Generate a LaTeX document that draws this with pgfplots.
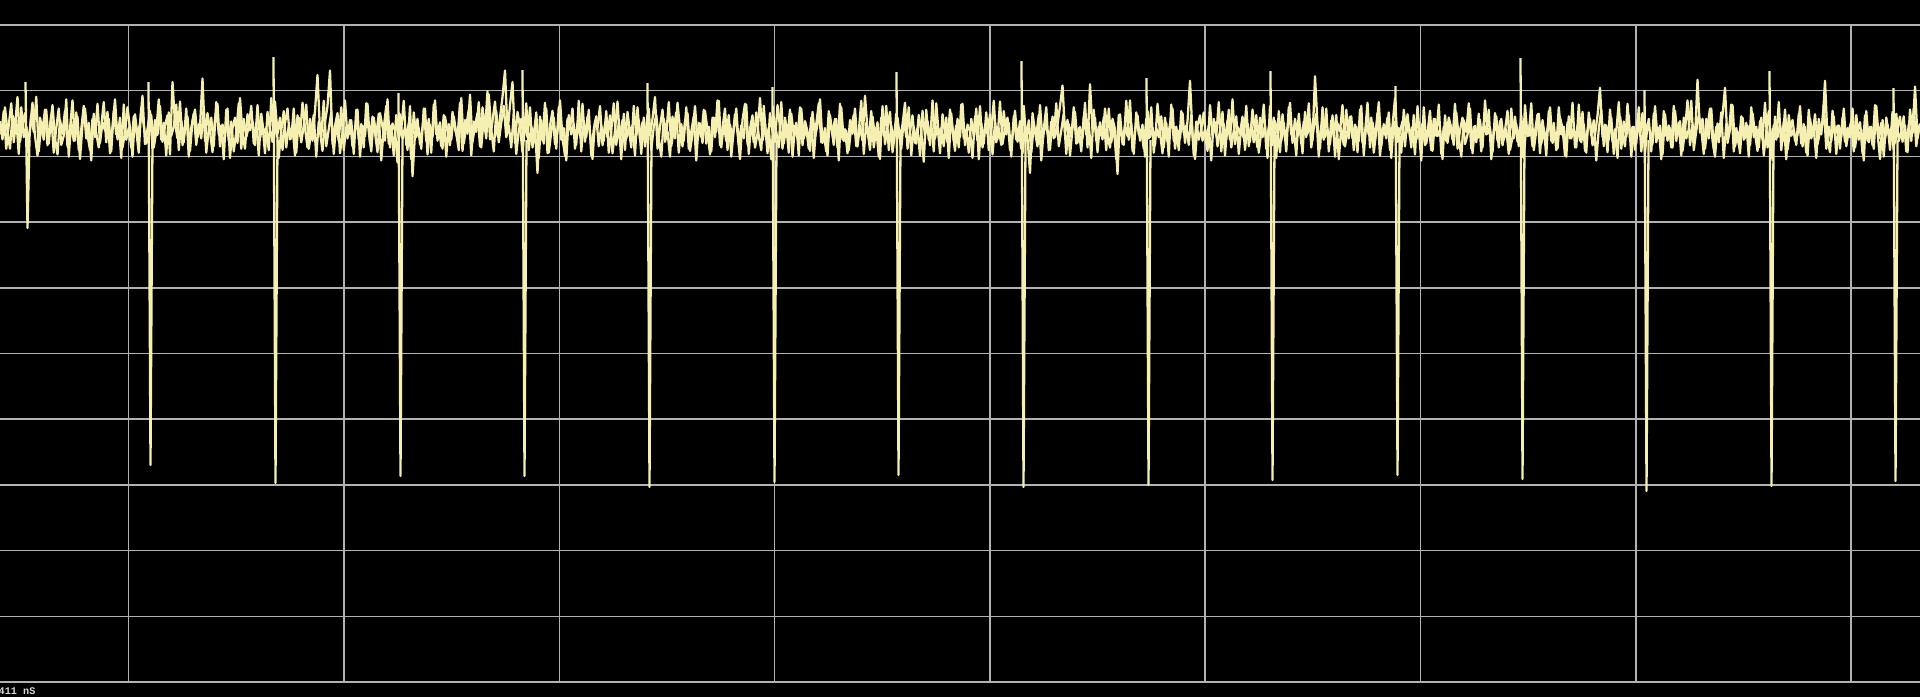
\documentclass[border=0pt]{standalone}
\usepackage{pgfplots}
\pgfplotsset{compat=1.18}
\usepackage{fontspec}
\setmonofont{Liberation Mono}
\usetikzlibrary{backgrounds}
\definecolor{trace}{RGB}{245,240,178}
\definecolor{gridc}{RGB}{178,178,178}
\begin{document}
\begin{tikzpicture}
\begin{axis}[
  scale only axis, width=19.2cm, height=6.57cm,
  xmin=0, xmax=1920, ymin=25, ymax=682, y dir=reverse,
  axis background/.style={fill=black},
  axis line style={draw=none},
  xtick={128.7,344.0,559.3,774.6,989.9,1205.2,1420.5,1635.8,1851.1},
  ytick={25,90.7,156.4,222.1,287.8,353.5,419.2,484.9,550.6,616.3,682},
  xticklabels={}, yticklabels={}, major tick length=0pt,
  grid=major, grid style={line width=0.42pt, color=gridc},
  clip=true,
]
% trace, even samples
\addplot[trace, line width=0.65pt, line join=round] table[row sep=\\, header=false, x expr=\coordindex*2.5, y expr={128+1.15*(\thisrowno{0}-128)}] {
122\\138\\110\\131\\146\\117\\127\\101\\140\\124\\115\\149\\128\\106\\135\\152\\119\\130\\112\\143\\
126\\108\\137\\151\\121\\133\\113\\144\\129\\104\\139\\118\\155\\125\\111\\134\\147\\120\\136\\107\\
141\\123\\130\\114\\150\\127\\103\\138\\119\\145\\132\\110\\128\\153\\116\\135\\124\\100\\142\\129\\
113\\146\\121\\134\\109\\140\\126\\117\\151\\88\\124\\137\\105\\143\\130\\118\\148\\122\\112\\136\\
127\\85\\139\\115\\131\\149\\120\\107\\144\\125\\136\\111\\154\\128\\119\\141\\102\\133\\146\\116\\
130\\122\\143\\108\\137\\125\\150\\114\\129\\140\\105\\133\\119\\147\\124\\111\\138\\127\\152\\117\\
135\\106\\128\\145\\120\\139\\113\\82\\131\\148\\123\\109\\78\\142\\126\\115\\150\\132\\104\\137\\
121\\144\\129\\112\\153\\126\\135\\107\\141\\118\\132\\149\\115\\127\\139\\103\\145\\124\\130\\158\\
116\\138\\127\\147\\109\\170\\133\\120\\142\\128\\111\\151\\125\\136\\104\\139\\123\\146\\118\\131\\
143\\114\\129\\137\\106\\148\\121\\133\\99\\140\\126\\115\\144\\110\\131\\96\\138\\122\\105\\135\\
119\\101\\78\\132\\108\\88\\141\\114\\127\\149\\123\\136\\110\\145\\128\\167\\118\\139\\106\\150\\
126\\113\\142\\131\\104\\137\\152\\120\\129\\111\\146\\124\\135\\107\\140\\118\\133\\155\\122\\128\\
109\\143\\125\\136\\117\\150\\130\\105\\139\\121\\147\\114\\132\\126\\152\\110\\138\\123\\144\\116\\
134\\120\\101\\146\\127\\112\\140\\131\\153\\118\\137\\106\\129\\144\\122\\115\\148\\133\\109\\139\\
124\\141\\113\\130\\151\\119\\136\\104\\143\\128\\111\\147\\125\\138\\116\\132\\155\\121\\107\\142\\
129\\117\\145\\133\\102\\139\\124\\150\\115\\131\\140\\108\\127\\146\\119\\135\\112\\153\\126\\137\\
110\\143\\122\\131\\148\\114\\136\\125\\103\\141\\128\\152\\117\\134\\120\\145\\107\\138\\129\\150\\
121\\133\\111\\144\\126\\139\\100\\130\\147\\118\\136\\123\\155\\109\\142\\127\\114\\149\\132\\119\\
138\\125\\106\\146\\131\\117\\141\\128\\152\\113\\135\\122\\143\\104\\137\\126\\150\\116\\133\\140\\
112\\129\\148\\120\\136\\107\\143\\125\\131\\154\\118\\139\\109\\145\\127\\133\\116\\151\\123\\138\\
105\\142\\128\\119\\147\\134\\113\\140\\122\\150\\126\\137\\167\\115\\131\\144\\108\\139\\124\\132\\
147\\118\\136\\125\\109\\91\\133\\121\\152\\128\\114\\141\\127\\137\\106\\145\\90\\130\\119\\149\\
123\\138\\111\\134\\145\\120\\129\\168\\116\\142\\126\\135\\104\\148\\131\\117\\139\\125\\153\\113\\
136\\128\\143\\107\\132\\150\\119\\140\\124\\111\\146\\130\\137\\115\\141\\122\\87\\134\\155\\126\\
117\\139\\129\\148\\108\\135\\123\\144\\130\\114\\152\\121\\138\\103\\142\\127\\133\\118\\147\\124\\
140\\112\\131\\145\\119\\136\\126\\154\\109\\143\\122\\132\\149\\116\\137\\128\\106\\141\\120\\135\\
127\\150\\114\\133\\121\\139\\83\\125\\146\\110\\136\\129\\142\\117\\153\\124\\131\\108\\144\\130\\
118\\137\\125\\149\\112\\141\\133\\106\\145\\123\\138\\115\\152\\128\\134\\119\\147\\126\\102\\140\\
131\\122\\144\\116\\136\\127\\151\\109\\139\\124\\143\\132\\113\\148\\120\\135\\129\\155\\117\\141\\
125\\138\\107\\146\\130\\119\\142\\134\\111\\150\\126\\137\\121\\145\\104\\133\\128\\149\\115\\139\\
122\\143\\130\\113\\147\\136\\118\\140\\127\\153\\108\\135\\124\\144\\131\\116\\150\\121\\138\\129\\
110\\141\\133\\146\\119\\128\\152\\123\\137\\106\\145\\126\\139\\114\\148\\130\\120\\143\\134\\117\\
93\\136\\125\\149\\112\\140\\129\\154\\118\\133\\144\\107\\138\\127\\147\\121\\135\\115\\150\\124\\
131\\142\\109\\137\\126\\151\\116\\139\\128\\145\\113\\134\\122\\148\\130\\104\\143\\125\\136\\86\\
132\\120\\146\\127\\111\\139\\153\\124\\135\\117\\93\\141\\129\\108\\144\\131\\150\\119\\137\\126\\
143\\115\\133\\148\\122\\138\\106\\145\\128\\156\\118\\136\\125\\140\\112\\147\\130\\121\\139\\134\\
109\\144\\127\\152\\120\\135\\116\\142\\131\\125\\87\\138\\149\\113\\134\\126\\146\\119\\140\\128\\
136\\111\\145\\130\\123\\150\\117\\139\\127\\143\\108\\132\\155\\121\\137\\125\\147\\114\\141\\129\\
118\\140\\126\\149\\112\\133\\92\\137\\124\\
};
% trace, odd samples (between the even ones)
\addplot[trace, line width=0.65pt, line join=round] table[row sep=\\, header=false, x expr=1.25+\coordindex*2.5, y expr={128+1.3*(\thisrowno{0}-128)}] {
133\\115\\144\\126\\109\\139\\121\\148\\112\\135\\127\\142\\118\\131\\104\\146\\125\\137\\114\\140\\
119\\147\\128\\113\\141\\134\\106\\150\\123\\138\\116\\145\\129\\111\\136\\124\\153\\117\\132\\143\\
127\\108\\139\\121\\146\\115\\133\\125\\151\\110\\137\\128\\143\\119\\130\\147\\112\\126\\140\\134\\
118\\143\\131\\106\\137\\124\\149\\116\\134\\127\\110\\145\\122\\139\\113\\150\\128\\117\\141\\125\\
136\\112\\147\\129\\120\\142\\108\\133\\126\\152\\114\\138\\123\\146\\131\\109\\144\\121\\135\\127\\
111\\140\\124\\149\\117\\132\\128\\145\\105\\137\\122\\151\\130\\115\\143\\126\\136\\113\\147\\120\\
139\\126\\110\\144\\131\\118\\150\\123\\135\\107\\142\\129\\116\\148\\124\\138\\112\\145\\127\\133\\
122\\148\\114\\137\\125\\143\\109\\131\\146\\120\\134\\117\\153\\128\\111\\140\\126\\149\\118\\136\\
129\\107\\141\\124\\152\\116\\135\\128\\144\\113\\138\\121\\147\\110\\133\\126\\142\\118\\150\\125\\
137\\119\\132\\145\\105\\140\\127\\114\\149\\123\\131\\108\\143\\120\\136\\102\\129\\146\\115\\139\\
124\\111\\135\\126\\143\\117\\148\\130\\121\\138\\109\\145\\127\\134\\116\\151\\122\\140\\113\\147\\
131\\120\\144\\112\\137\\128\\153\\118\\133\\125\\141\\107\\146\\123\\135\\114\\149\\129\\119\\142\\
126\\138\\115\\147\\130\\109\\141\\124\\152\\117\\136\\128\\143\\111\\134\\122\\148\\120\\139\\113\\
145\\127\\118\\136\\150\\121\\133\\108\\142\\129\\116\\147\\125\\138\\112\\144\\131\\119\\153\\124\\
135\\114\\140\\127\\146\\120\\131\\107\\143\\125\\138\\118\\150\\129\\113\\141\\126\\136\\110\\148\\
123\\139\\116\\134\\145\\111\\137\\128\\152\\119\\131\\143\\108\\140\\126\\147\\117\\133\\124\\149\\
113\\136\\128\\144\\120\\151\\125\\109\\139\\132\\146\\115\\127\\141\\121\\153\\112\\138\\130\\145\\
127\\118\\142\\131\\107\\148\\124\\136\\115\\143\\128\\150\\120\\134\\111\\145\\126\\139\\117\\132\\
144\\121\\135\\112\\149\\127\\140\\118\\131\\154\\114\\137\\125\\146\\109\\133\\128\\142\\120\\151\\
117\\138\\126\\143\\110\\136\\129\\147\\121\\134\\113\\152\\124\\140\\116\\145\\131\\107\\139\\128\\
141\\115\\133\\124\\150\\119\\137\\128\\144\\111\\138\\122\\147\\126\\134\\118\\153\\129\\112\\145\\
123\\136\\109\\142\\130\\117\\148\\125\\135\\112\\140\\128\\146\\119\\133\\124\\151\\114\\138\\127\\
134\\120\\145\\113\\139\\126\\152\\118\\131\\141\\107\\137\\125\\148\\116\\133\\129\\144\\121\\136\\
112\\147\\128\\135\\119\\143\\124\\150\\110\\138\\127\\145\\115\\132\\126\\141\\118\\149\\123\\137\\
129\\116\\140\\126\\153\\121\\134\\108\\146\\125\\137\\114\\143\\130\\119\\148\\127\\136\\111\\142\\
125\\139\\118\\147\\131\\110\\144\\127\\136\\120\\151\\115\\138\\124\\146\\112\\133\\129\\149\\117\\
140\\123\\135\\109\\143\\128\\117\\150\\126\\137\\113\\146\\122\\134\\118\\152\\128\\141\\114\\136\\
119\\145\\127\\138\\111\\149\\124\\133\\120\\147\\130\\108\\142\\125\\136\\116\\151\\123\\139\\128\\
147\\114\\132\\125\\143\\118\\137\\129\\153\\112\\140\\126\\145\\121\\134\\110\\148\\127\\138\\120\\
128\\141\\116\\135\\150\\122\\131\\109\\144\\127\\139\\117\\146\\124\\133\\114\\152\\130\\119\\143\\
121\\137\\129\\148\\113\\136\\125\\142\\118\\151\\126\\134\\109\\145\\130\\117\\140\\128\\149\\115\\
138\\124\\145\\112\\133\\127\\150\\119\\136\\128\\143\\110\\139\\125\\147\\116\\134\\122\\153\\129\\
114\\142\\126\\137\\120\\148\\131\\108\\144\\123\\135\\118\\150\\127\\140\\112\\146\\129\\133\\121\\
146\\117\\139\\128\\152\\115\\134\\126\\143\\111\\138\\124\\149\\120\\136\\129\\107\\145\\130\\118\\
129\\148\\121\\136\\113\\144\\127\\139\\116\\151\\125\\133\\110\\146\\128\\141\\119\\137\\124\\150\\
112\\135\\127\\143\\120\\149\\131\\115\\140\\126\\137\\108\\145\\123\\152\\118\\134\\129\\141\\117\\
140\\125\\147\\114\\136\\128\\151\\121\\133\\110\\144\\127\\138\\119\\148\\126\\135\\113\\142\\130\\
123\\146\\118\\137\\129\\153\\115\\139\\127\\144\\111\\136\\124\\150\\120\\133\\128\\145\\117\\138\\
131\\119\\146\\125\\138\\113\\142\\127\\
};
% periodic negative pulses
\addplot[trace, line width=0.65pt, line join=round, unbounded coords=jump] coordinates {
(25.5,82) (27.5,228) (29.5,140) (30,nan)
(148.5,82) (150.5,465) (152.5,140) (153,nan)
(273.5,57) (275.5,483) (277.5,140) (278,nan)
(398.5,93) (400.5,476) (402.5,140) (403,nan)
(522.5,70) (524.5,476) (526.5,140) (527,nan)
(647.5,83) (649.5,487) (651.5,140) (652,nan)
(772.5,87) (774.5,482) (776.5,140) (777,nan)
(896.5,72) (898.5,475) (900.5,140) (901,nan)
(1021.5,61) (1023.5,487) (1025.5,140) (1026,nan)
(1146.5,78) (1148.5,485) (1150.5,140) (1151,nan)
(1270.5,71) (1272.5,480) (1274.5,140) (1275,nan)
(1395.5,86) (1397.5,475) (1399.5,140) (1400,nan)
(1520.5,58) (1522.5,479) (1524.5,140) (1525,nan)
(1644.5,90) (1646.5,491) (1648.5,140) (1649,nan)
(1769.5,71) (1771.5,486) (1773.5,140) (1774,nan)
(1893.5,88) (1895.5,481) (1897.5,140)
};
\end{axis}
\begin{scope}[on background layer]
\fill[black] ([yshift=-0.15cm]current axis.south west) rectangle ([yshift=0.25cm]current axis.north east);
\end{scope}
\node[anchor=north west, inner sep=0pt, text={rgb,255:red,215;green,215;blue,215}, font=\ttfamily\bfseries\fontsize{2.9}{3}\selectfont] at ([xshift=-0.02cm,yshift=-0.045cm]current axis.south west) {411 nS};
\pgfresetboundingbox
\path[use as bounding box] ([yshift=-0.15cm]current axis.south west) rectangle ([yshift=0.25cm]current axis.north east);
\end{tikzpicture}
\end{document}
